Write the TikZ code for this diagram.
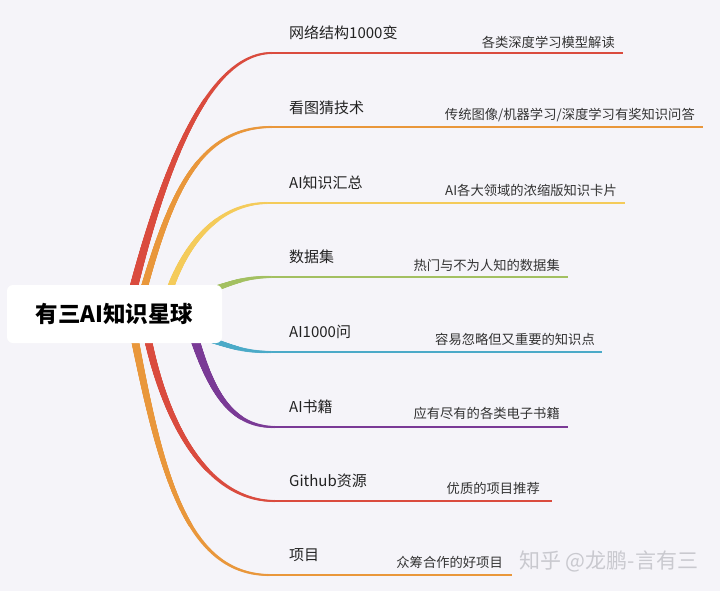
\documentclass[tikz,border=0pt]{standalone}
\usepackage{fontspec}
\setmainfont{Noto Sans CJK SC}
\usetikzlibrary{decorations.markings}
\definecolor{bg}{HTML}{F5F4F9}
\definecolor{cred}{HTML}{DA4B3E}
\definecolor{corange}{HTML}{E9973B}
\definecolor{cyellow}{HTML}{F4CB5A}
\definecolor{cgreen}{HTML}{A3C061}
\definecolor{cteal}{HTML}{4BAAC8}
\definecolor{cpurple}{HTML}{7A3A96}
\definecolor{ctext}{HTML}{222222}
\definecolor{csub}{HTML}{333333}
\definecolor{cwater}{HTML}{C9C9CF}
\tikzset{
  taper/.style n args={3}{decorate, decoration={markings,
      mark=between positions 0 and 1 step 0.6pt with {%
        \pgfmathsetmacro\rr{#2-(#2-#3)*\pgfkeysvalueof{/pgf/decoration/mark info/distance from start}/\pgfdecoratedpathlength}%
        \fill[#1] (0,0) circle[radius=\rr pt];}}},
  subline/.style={line width=2pt},
  topic/.style={anchor=west, inner sep=0pt, font=\fontsize{15}{18}\selectfont, text=ctext},
  detail/.style={anchor=east, inner sep=0pt, font=\fontsize{13.3}{16}\selectfont, text=csub},
  rootbox/.style={fill=white, rounded corners=6pt, minimum width=215pt, minimum height=58pt, inner sep=0pt,
      font=\fontsize{22.5}{26}\selectfont\bfseries, text=black},
}
\begin{document}
\begin{tikzpicture}[x=1pt, y=-1pt]
\fill[bg] (0,0) rectangle (720,591);
\useasboundingbox (0,0) rectangle (720,591);

% roots / horizontal starts / ends
\coordinate (r1) at (128,310); \coordinate (h1) at (272,53);  \coordinate (e1) at (623,53);
\coordinate (r2) at (138,310); \coordinate (h2) at (272,127); \coordinate (e2) at (703,127);
\coordinate (r3) at (165,305); \coordinate (h3) at (268,203); \coordinate (e3) at (625,203);
\coordinate (r4) at (205,292); \coordinate (h4) at (272,277); \coordinate (e4) at (568,277);
\coordinate (r5) at (205,338); \coordinate (h5) at (272,352); \coordinate (e5) at (602,352);
\coordinate (r6) at (192,330); \coordinate (h6) at (275,427); \coordinate (e6) at (568,427);
\coordinate (r7) at (145,325); \coordinate (h7) at (275,501); \coordinate (e7) at (552,501);
\coordinate (r8) at (132,325); \coordinate (h8) at (270,575); \coordinate (e8) at (512,575);

% tapered branches
\path[taper={cred}{4.5}{1}]    (r1) .. controls (155,200) and (200,53)  .. (h1);
\path[taper={corange}{3.8}{1}] (r2) .. controls (168,200) and (195,127) .. (h2);
\path[taper={cyellow}{3.8}{1}] (r3) .. controls (180,250) and (215,203) .. (h3);
\path[taper={cgreen}{3.2}{1}]  (r4) .. controls (235,282) and (245,277) .. (h4);
\path[taper={cteal}{3.0}{1}]   (r5) .. controls (235,348) and (245,352) .. (h5);
\path[taper={cpurple}{4.8}{1}] (r6) .. controls (210,390) and (230,427) .. (h6);
\path[taper={cred}{4.0}{1}]    (r7) .. controls (165,430) and (210,501) .. (h7);
\path[taper={corange}{4.0}{1}] (r8) .. controls (160,470) and (185,575) .. (h8);

\draw[cred, subline]    (h1) -- (e1);
\draw[corange, subline] (h2) -- (e2);
\draw[cyellow, subline] (h3) -- (e3);
\draw[cgreen, subline]  (h4) -- (e4);
\draw[cteal, subline]   (h5) -- (e5);
\draw[cpurple, subline] (h6) -- (e6);
\draw[cred, subline]    (h7) -- (e7);
\draw[corange, subline] (h8) -- (e8);

% central topic
\node[rootbox] (root) at (114.5,314) {有三AI知识星球};

% topics
\node[topic] (t1) at (289,33)  {网络结构1000变};
\node[topic] (t2) at (289,108) {看图猜技术};
\node[topic] (t3) at (289,183) {AI知识汇总};
\node[topic] (t4) at (289,257) {数据集};
\node[topic] (t5) at (289,332) {AI1000问};
\node[topic] (t6) at (289,407) {AI书籍};
\node[topic] (t7) at (289,481) {Github资源};
\node[topic] (t8) at (289,555) {项目};

% details
\node[detail] (d1) at (615,42)  {各类深度学习模型解读};
\node[detail] (d2) at (695,115) {传统图像/机器学习/深度学习有奖知识问答};
\node[detail] (d3) at (617,190) {AI各大领域的浓缩版知识卡片};
\node[detail] (d4) at (560,265) {热门与不为人知的数据集};
\node[detail] (d5) at (595,339) {容易忽略但又重要的知识点};
\node[detail] (d6) at (560,413) {应有尽有的各类电子书籍};
\node[detail] (d7) at (540,488) {优质的项目推荐};
\node[detail] (d8) at (503,562) {众筹合作的好项目};

% watermark
\node[anchor=west, inner sep=0pt, font=\fontsize{21}{24}\selectfont, text=cwater] (wm) at (519,561) {知乎 @龙鹏-言有三};
\end{tikzpicture}
\end{document}
